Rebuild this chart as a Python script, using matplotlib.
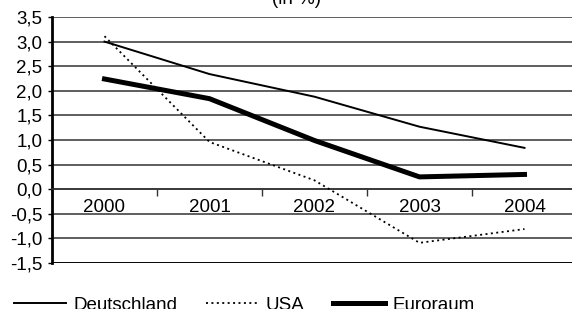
import matplotlib
matplotlib.use("Agg")
import matplotlib.pyplot as plt
import numpy as np

plt.rcParams['font.family'] = ['Liberation Sans', 'DejaVu Sans']

years = ["2000", "2001", "2002", "2003", "2004"]
deutschland = [3.0, 2.34, 1.88, 1.27, 0.84]
usa = [3.11, 0.96, 0.18, -1.09, -0.81]
euroraum = [2.24, 1.84, 0.99, 0.25, 0.30]
yticks = [-1.5, -1.0, -0.5, 0.0, 0.5, 1.0, 1.5, 2.0, 2.5, 3.0, 3.5]

FS = 13.5
W, H = 572, 309
fig = plt.figure(figsize=(W / 100, H / 100), dpi=100)
ax = fig.add_axes([52 / W, 1 - 263 / H, 525 / W, (263 - 17) / H])

x = np.arange(len(years))
ax.set_xlim(-0.5, len(years) - 0.5)
ax.set_ylim(-1.5, 3.5)

for yv in yticks:
    ax.axhline(yv, color='#333333', lw=1.1, zorder=1)

l1, = ax.plot(x, deutschland, color='black', lw=1.4, zorder=3, label='Deutschland')
l2, = ax.plot(x, usa, color='black', lw=1.3, ls=(0, (1.1, 1.9)), zorder=3, label='USA')
l3, = ax.plot(x, euroraum, color='black', lw=3.6, zorder=3, label='Euroraum')

ax.set_yticks(yticks)
ax.set_yticklabels([f"{v:.1f}".replace('.', ',') for v in yticks], fontsize=FS)
ax.tick_params(axis='y', length=3, width=1, pad=4, color='black')

for s in ['top', 'right']:
    ax.spines[s].set_visible(False)
ax.spines['left'].set_linewidth(2)
ax.spines['bottom'].set_position(('data', 0))
ax.spines['bottom'].set_linewidth(1.1)
ax.spines['bottom'].set_color('#333333')
ax.axhline(-1.5, color='black', lw=2, zorder=2)

ax.set_xticks(np.arange(len(years) + 1) - 0.5)
ax.set_xticklabels([])
ax.tick_params(axis='x', which='major', direction='out', length=5, width=1, color='#333333')
ax.set_xticks(x, minor=True)
ax.set_xticklabels(years, minor=True, fontsize=FS)
ax.tick_params(axis='x', which='minor', length=0, pad=7)

fig.text(296 / W, 1 - 4 / H, "(in %)", ha='center', va='baseline', fontsize=FS)

fig.legend(handles=[l1, l2, l3], loc='lower left', bbox_to_anchor=(0.012, -0.04),
           ncol=3, frameon=False, fontsize=FS, handlelength=2.75, handletextpad=0.4,
           columnspacing=1.55, borderaxespad=0)

fig.savefig("out.png", dpi=100)
